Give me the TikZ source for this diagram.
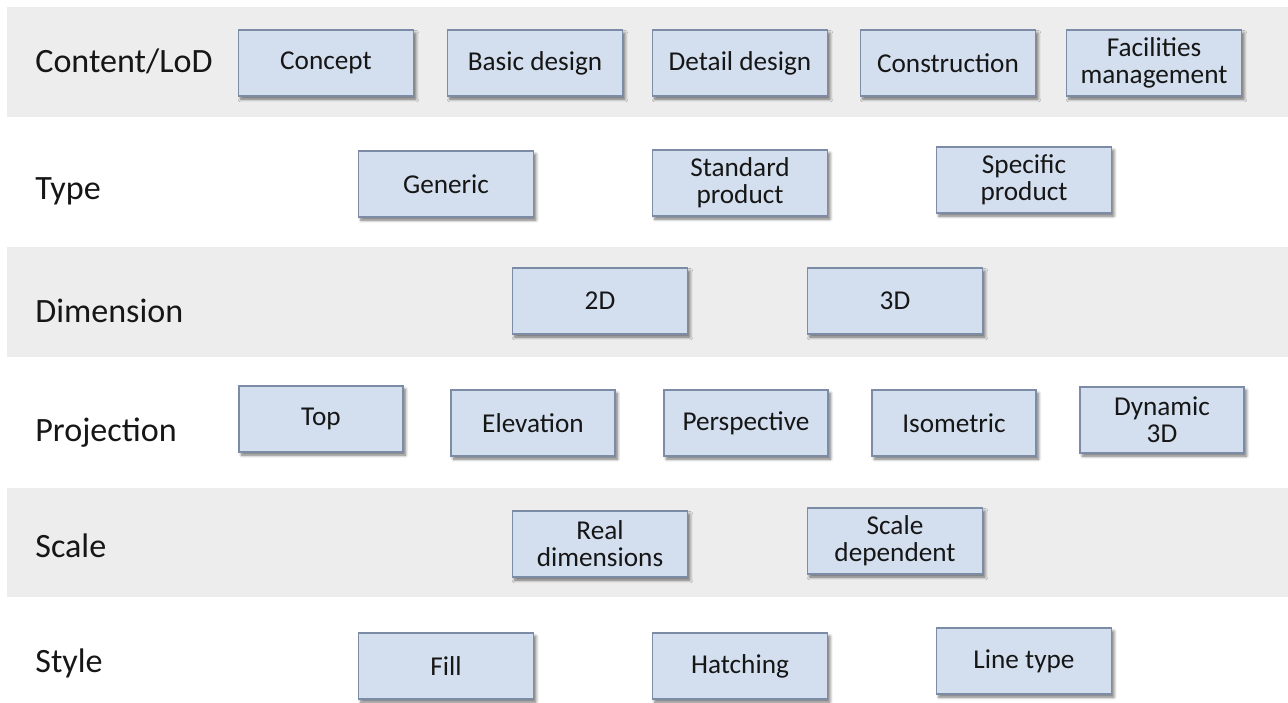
\documentclass[tikz,border=0pt]{standalone}
\usepackage{fontspec}
\setmainfont{Carlito}
\usetikzlibrary{shadows.blur}
\definecolor{bandgray}{RGB}{237,237,237}
\definecolor{boxblue}{RGB}{211,223,238}
\definecolor{boxedge}{RGB}{124,140,166}
\definecolor{inkblack}{RGB}{22,22,22}

\begin{document}
\begin{tikzpicture}[x=0.2mm,y=-0.2mm,
  box/.style={rectangle,draw=boxedge,line width=0.8pt,fill=boxblue,
    minimum width=3.5cm,minimum height=1.32cm,inner sep=2pt,align=center,
    font=\fontsize{15.5}{15.5}\selectfont,text=inkblack,
    blur shadow={shadow xshift=1.4pt,shadow yshift=-1.8pt,shadow blur radius=1.6pt,
      shadow blur steps=6,shadow opacity=55}},
  narrow/.style={minimum width=3.28cm},
  rowlabel/.style={anchor=base west,inner sep=0pt,font=\fontsize{19.4}{22}\selectfont,text=inkblack}]

  \useasboundingbox (0,0) rectangle (1288,702);

  % grey bands behind every other row
  \fill[bandgray] (7,7) rectangle (1288,117);
  \fill[bandgray] (7,247) rectangle (1288,357);
  \fill[bandgray] (7,488) rectangle (1288,597);

  % row titles
  \node[rowlabel] (lod) at (35,72) {Content/LoD};
  \node[rowlabel] (type) at (35,199) {Type};
  \node[rowlabel] (dim) at (35,322) {Dimension};
  \node[rowlabel] (proj) at (35,441) {Projection};
  \node[rowlabel] (scale) at (35,557) {Scale};
  \node[rowlabel] (style) at (35,672) {Style};

  % content / level of detail
  \node[box] (concept) at (326,63) {Concept};
  \node[box] (basic) at (535,63) {Basic design};
  \node[box] (detail) at (740,63) {Detail design};
  \node[box] (constr) at (948,63) {Construction};
  \node[box] (fm) at (1154,63) {Facilities\\management};

  % type
  \node[box] (generic) at (446,184) {Generic};
  \node[box] (standard) at (740,183) {Standard\\product};
  \node[box] (specific) at (1024,180) {Specific\\product};

  % dimension
  \node[box] (twod) at (600,301) {2D};
  \node[box] (threed) at (895,301) {3D};

  % projection
  \node[box,narrow] (top) at (321,419) {Top};
  \node[box,narrow] (elev) at (533,423) {Elevation};
  \node[box,narrow] (persp) at (746,423) {Perspective};
  \node[box,narrow] (iso) at (954,423) {Isometric};
  \node[box,narrow] (dyn) at (1162,420) {Dynamic\\3D};

  % scale
  \node[box] (real) at (600,544) {Real\\dimensions};
  \node[box] (scaledep) at (895,541) {Scale\\dependent};

  % style
  \node[box] (fill) at (446,666) {Fill};
  \node[box] (hatch) at (740,666) {Hatching};
  \node[box] (ltype) at (1024,661) {Line type};

\end{tikzpicture}
\end{document}
